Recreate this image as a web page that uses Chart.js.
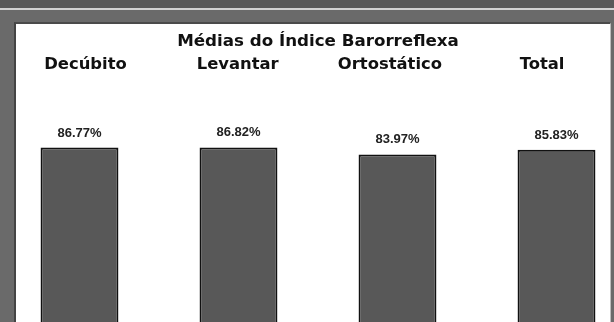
<!DOCTYPE html>
<html>
<head>
<meta charset="utf-8">
<script src="https://cdn.jsdelivr.net/npm/chart.js@4/dist/chart.umd.min.js"></script>
<style>
  body { margin: 0; width: 614px; height: 322px; overflow: hidden; background: #fff; position: relative; }
  .topbar { position: absolute; left: 0; top: 0; width: 614px; height: 8px; background: #595959; }
  .hline { position: absolute; left: 0; top: 8px; width: 614px; height: 2px; background: #d2d2d2; }
  .frame { position: absolute; left: 0; top: 10px; width: 614px; height: 312px; background: #6a6a6a; }
  .panel { position: absolute; left: 14px; top: 22px; width: 594px; height: 310px; background: #fff;
           border-left: 2px solid #444; border-top: 2px solid #4a4a4a; border-right: 1px solid #bdbdbd; }
  #dynamic-chart { position: absolute; left: 0; top: 0; }
</style>
</head>
<body>
<div class="topbar"></div>
<div class="hline"></div>
<div class="frame"></div>
<div class="panel"></div>
<canvas id="dynamic-chart" width="640" height="366"></canvas>

<script>
//----------------------------Data-----------------------------------------------

const categories = ['Decúbito', 'Levantar', 'Ortostático', 'Total'];
const medias = [86.77, 86.82, 83.97, 85.83];
const titulo = 'Médias do Índice Barorreflexa';

//----------------------------Labels over the bars-------------------------------

const valueLabels = {
    id: 'valueLabels',
    afterDatasetsDraw(chart) {
        const ctx = chart.ctx;
        const meta = chart.getDatasetMeta(0);
        ctx.save();
        ctx.font = 'bold 13px "Liberation Sans", Arial, sans-serif';
        ctx.fillStyle = '#222';
        ctx.textAlign = 'center';
        ctx.textBaseline = 'alphabetic';
        meta.data.forEach(function(bar, i) {
            ctx.fillText(medias[i].toFixed(2) + '%', bar.x, bar.y - 11);
        });
        ctx.restore();
    }
};

//----------------------------Chart-----------------------------------------------

let ctx = document.getElementById('dynamic-chart').getContext('2d');
let myChart = new Chart(ctx, {
    type: 'bar',
    data: {
        labels: categories,
        datasets: [{
            data: medias,
            backgroundColor: '#585858',
            borderColor: '#111111',
            borderWidth: 2,
            categoryPercentage: 1,
            barPercentage: 0.49
        }]
    },
    options: {
        responsive: false,
        animation: false,
        devicePixelRatio: 1,
        layout: {
            padding: { left: 0, right: 4, top: 0, bottom: 4 }
        },
        plugins: {
            legend: { display: false },
            tooltip: { enabled: false },
            title: {
                display: true,
                text: titulo,
                color: '#111',
                font: { family: '"DejaVu Sans", sans-serif', size: 16.7, weight: 'bold' },
                padding: { top: 32, bottom: 3 }
            }
        },
        scales: {
            x: { display: false },
            // category names sit on their own top axis
            nomes: {
                type: 'linear',
                axis: 'x',
                position: 'top',
                bounds: 'data',
                offset: false,
                min: -0.562,
                max: 3.617,
                afterBuildTicks: function(scale) {
                    scale.ticks = categories.map(function(c, i) { return { value: i }; });
                },
                ticks: {
                    autoSkip: false,
                    maxRotation: 0,
                    padding: 0,
                    color: '#111',
                    font: { family: '"DejaVu Sans", sans-serif', size: 16.4, weight: 'bold' },
                    callback: function(value) { return categories[value]; }
                },
                grid: { display: false },
                border: { display: false }
            },
            y: {
                display: false,
                min: 0,
                max: 113
            }
        }
    },
    plugins: [valueLabels]
});
</script>
</body>
</html>
